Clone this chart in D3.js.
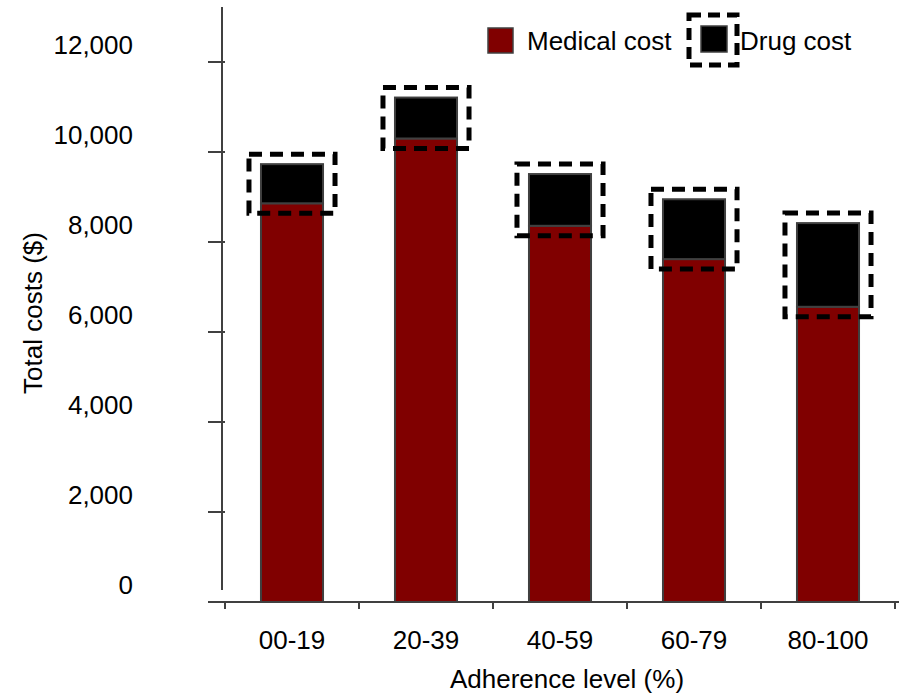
<!DOCTYPE html>
<html>
<head>
<meta charset="utf-8">
<script src="https://cdn.jsdelivr.net/npm/d3@7/dist/d3.min.js"></script>
<style>
  html, body { margin: 0; padding: 0; background: #fff; }
  svg { display: block; }
  text { font-family: "Liberation Sans", Arial, sans-serif; fill: #000; }
</style>
</head>
<body>
<svg id="chart" width="899" height="693"></svg>
<script>
const categories = ["00-19", "20-39", "40-59", "60-79", "80-100"];
const medicalCost = [8860, 10300, 8360, 7620, 6560];
const drugCost = [870, 910, 1150, 1330, 1860];
const yTicks = [0, 2000, 4000, 6000, 8000, 10000, 12000];
const seriesNames = ["Medical cost", "Drug cost"];
const xTitle = "Adherence level (%)";
const yTitle = "Total costs ($)";

const svg = d3.select("#chart");
const axisColor = "#404040";
const fontSize = 26;

const x = d3.scaleBand().domain(categories).range([225, 895]).paddingInner(0.537).paddingOuter(0.537 / 2);
const y = d3.scaleLinear().domain([0, 12000]).range([602, 62]);

// Y axis line
svg.append("line").attr("x1", 222).attr("x2", 222).attr("y1", 7).attr("y2", 590)
  .attr("stroke", axisColor).attr("stroke-width", 2);
// Y ticks (not at 0)
svg.selectAll(".ytick").data(yTicks.filter(d => d > 0)).enter().append("line")
  .attr("x1", 208).attr("x2", 225).attr("y1", d => y(d)).attr("y2", d => y(d))
  .attr("stroke", axisColor).attr("stroke-width", 2);
// Y labels (offset above the ticks as in the reference)
svg.selectAll(".ylab").data(yTicks).enter().append("text")
  .attr("x", 133).attr("y", d => y(d) - 17).attr("dy", "0.35em")
  .attr("text-anchor", "end").attr("font-size", fontSize)
  .text(d => d3.format(",")(d));

// X axis line
svg.append("line").attr("x1", 208).attr("x2", 899).attr("y1", 602).attr("y2", 602)
  .attr("stroke", axisColor).attr("stroke-width", 2);
const xTickPos = categories.map(c => x(c) - x.step() * x.paddingInner() / 2).concat([x(categories[categories.length - 1]) + x.bandwidth() + x.step() * x.paddingInner() / 2]);
svg.selectAll(".xtick").data(xTickPos).enter().append("line")
  .attr("x1", d => d).attr("x2", d => d).attr("y1", 602).attr("y2", 609)
  .attr("stroke", axisColor).attr("stroke-width", 2);
svg.selectAll(".xlab").data(categories).enter().append("text")
  .attr("x", d => x(d) + x.bandwidth() / 2).attr("y", 640).attr("dy", "0.35em")
  .attr("text-anchor", "middle").attr("font-size", fontSize).text(d => d);

// Titles
svg.append("text").attr("x", 567).attr("y", 679).attr("dy", "0.35em")
  .attr("text-anchor", "middle").attr("font-size", fontSize).text(xTitle);
svg.append("text").attr("transform", "translate(33,313) rotate(-90)").attr("dy", "0.35em")
  .attr("text-anchor", "middle").attr("font-size", fontSize).text(yTitle);

// Bars
const data = categories.map((c, i) => ({ c, med: medicalCost[i], drug: drugCost[i], total: medicalCost[i] + drugCost[i] }));
const g = svg.append("g");
g.selectAll(".med").data(data).enter().append("rect")
  .attr("x", d => x(d.c)).attr("width", x.bandwidth())
  .attr("y", d => y(d.med)).attr("height", d => y(0) - y(d.med))
  .attr("fill", "#800000").attr("stroke", axisColor).attr("stroke-width", 2);
g.selectAll(".drug").data(data).enter().append("rect")
  .attr("x", d => x(d.c)).attr("width", x.bandwidth())
  .attr("y", d => y(d.total)).attr("height", d => y(d.med) - y(d.total))
  .attr("fill", "#000").attr("stroke", axisColor).attr("stroke-width", 2);
// Dashed selection boxes around drug segments
g.selectAll(".sel").data(data).enter().append("rect")
  .attr("x", d => x(d.c) - 12).attr("width", x.bandwidth() + 24)
  .attr("y", d => y(d.total) - 10).attr("height", d => y(d.med) - y(d.total) + 20)
  .attr("fill", "none").attr("stroke", "#000").attr("stroke-width", 5)
  .attr("stroke-dasharray", "13,8");

// Legend
const lg = svg.append("g");
lg.append("rect").attr("x", 488).attr("y", 28).attr("width", 25).attr("height", 25)
  .attr("fill", "#800000").attr("stroke", axisColor).attr("stroke-width", 1.5);
lg.append("text").attr("x", 527).attr("y", 41).attr("dy", "0.35em").attr("font-size", fontSize).text(seriesNames[0]);
lg.append("rect").attr("x", 701).attr("y", 26).attr("width", 26).attr("height", 26)
  .attr("fill", "#000").attr("stroke", axisColor).attr("stroke-width", 1.5);
lg.append("rect").attr("x", 689).attr("y", 15).attr("width", 48).attr("height", 50)
  .attr("fill", "none").attr("stroke", "#000").attr("stroke-width", 5).attr("stroke-dasharray", "12,7");
lg.append("text").attr("x", 740).attr("y", 41).attr("dy", "0.35em").attr("font-size", fontSize).text(seriesNames[1]);
</script>
</body>
</html>
